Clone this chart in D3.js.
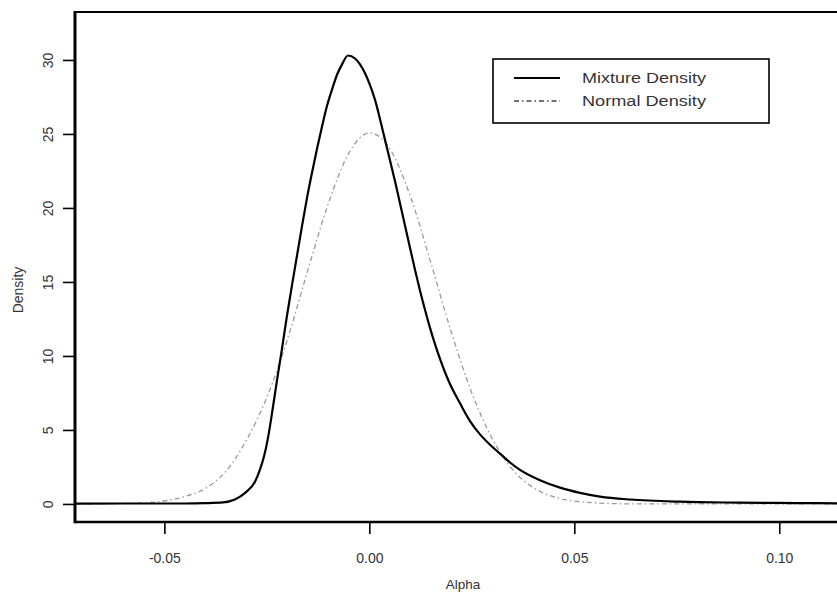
<!DOCTYPE html>
<html>
<head>
<meta charset="utf-8">
<script src="https://cdn.jsdelivr.net/npm/d3@7"></script>
<style>
  html, body { margin: 0; padding: 0; background: #fff; }
  svg { display: block; font-family: "Liberation Sans", Arial, sans-serif; }
</style>
</head>
<body>
<svg id="chart" width="837" height="597"></svg>
<script>
// ---- data ----
const mixtureX = [-0.0718, -0.06, -0.05, -0.045, -0.04, -0.0357, -0.0328, -0.0303, -0.0279, -0.0267, -0.0257, -0.0247, -0.0237, -0.0225, -0.0213, -0.0201, -0.01885, -0.01763, -0.01641, -0.01519, -0.01397, -0.01276, -0.01154, -0.01032, -0.0091, -0.00788, -0.00666, -0.0052, -0.00349, -0.00227, -0.00105, 0.00017, 0.00139, 0.00261, 0.00383, 0.00505, 0.00627, 0.00749, 0.00871, 0.00993, 0.01115, 0.01237, 0.01359, 0.0148, 0.01602, 0.01724, 0.01846, 0.01968, 0.02212, 0.02456, 0.027, 0.02944, 0.03188, 0.03432, 0.03676, 0.04163, 0.04651, 0.05139, 0.05627, 0.06359, 0.07578, 0.09, 0.104, 0.1175];
const mixtureY = [0.02, 0.03, 0.03, 0.03, 0.05, 0.1, 0.3, 0.75, 1.5, 2.3, 3.2, 4.5, 6.2, 8.4, 10.5, 12.7, 14.8, 16.8, 18.8, 20.7, 22.4, 24.0, 25.5, 26.9, 28.0, 29.0, 29.7, 30.3, 30.1, 29.7, 29.1, 28.3, 27.3, 26.0, 24.6, 23.2, 21.8, 20.3, 18.8, 17.3, 15.8, 14.4, 13.1, 11.9, 10.8, 9.8, 8.9, 8.1, 6.8, 5.6, 4.7, 4.0, 3.4, 2.8, 2.3, 1.6, 1.1, 0.75, 0.5, 0.3, 0.15, 0.09, 0.06, 0.03];

const normalX = [-0.0718, -0.065, -0.06, -0.055, -0.05, -0.045, -0.04, -0.035, -0.03, -0.025, -0.02, -0.015, -0.01, -0.005, 0.0, 0.005, 0.01, 0.015, 0.02, 0.025, 0.03, 0.035, 0.04, 0.045, 0.05, 0.055, 0.06, 0.065, 0.08, 0.1175];
const normalY = [0.0, 0.01, 0.03, 0.08, 0.2, 0.5, 1.05, 2.2, 4.3, 7.2, 11.1, 15.8, 20.3, 23.7, 25.07, 24.0, 20.8, 16.3, 11.6, 7.5, 4.4, 2.3, 1.1, 0.48, 0.19, 0.07, 0.02, 0.0, 0.0, 0.0];

const xTicks = [-0.05, 0.00, 0.05, 0.10];
const xTickLabels = ["-0.05", "0.00", "0.05", "0.10"];
const yTicks = [0, 5, 10, 15, 20, 25, 30];

const seriesNames = ["Mixture Density", "Normal Density"];
const xTitle = "Alpha";
const yTitle = "Density";

// ---- layout ----
const svg = d3.select("#chart");
const pLeft = 75, pRight = 851, pTop = 12, pBottom = 522;

const x = d3.scaleLinear().domain([-0.0718, 0.1175]).range([pLeft, pRight]);
const y = d3.scaleLinear().domain([-1.22, 33.24]).range([pBottom, pTop]);

svg.append("defs").append("clipPath").attr("id", "plotclip")
  .append("rect").attr("x", pLeft).attr("y", pTop).attr("width", pRight - pLeft).attr("height", pBottom - pTop);

const textColor = "#333";

// ---- curves ----
const g = svg.append("g").attr("clip-path", "url(#plotclip)");

const normalData = normalX.map((v, i) => [v, normalY[i]]);
const mixtureData = mixtureX.map((v, i) => [v, mixtureY[i]]);

const line = d3.line().x(d => x(d[0])).y(d => y(d[1])).curve(d3.curveMonotoneX);

g.append("path").datum(normalData)
  .attr("d", line)
  .attr("fill", "none")
  .attr("stroke", "#999")
  .attr("stroke-width", 1.3)
  .attr("stroke-dasharray", "5,3,1.5,3");

g.append("path").datum(mixtureData)
  .attr("d", line)
  .attr("fill", "none")
  .attr("stroke", "#000")
  .attr("stroke-width", 2.2);

// ---- axes ----
const xAxis = d3.axisBottom(x).tickValues(xTicks)
  .tickFormat((d, i) => xTickLabels[i]).tickSize(12).tickPadding(0);
const xg = svg.append("g").attr("transform", `translate(0,${pBottom})`).call(xAxis);
xg.select(".domain").remove();
xg.selectAll(".tick line").attr("stroke", "#000").attr("stroke-width", 1.6);
xg.selectAll(".tick text").attr("fill", textColor).attr("font-size", 14)
  .attr("font-family", "Liberation Sans, Arial, sans-serif")
  .attr("y", 36).attr("dy", null).attr("dominant-baseline", "central");

const yAxis = d3.axisLeft(y).tickValues(yTicks).tickSize(12).tickPadding(0);
const yg = svg.append("g").attr("transform", `translate(${pLeft},0)`).call(yAxis);
yg.select(".domain").remove();
yg.selectAll(".tick line").attr("stroke", "#000").attr("stroke-width", 1.6);
yg.selectAll(".tick text")
  .attr("fill", textColor).attr("font-size", 14)
  .attr("font-family", "Liberation Sans, Arial, sans-serif")
  .attr("x", null).attr("dy", null)
  .attr("text-anchor", "middle")
  .attr("dominant-baseline", "central")
  .attr("transform", "translate(-27,0) rotate(-90)");

// ---- frame ----
const frame = svg.append("g").attr("stroke", "#000").attr("fill", "none");
frame.append("line").attr("x1", pLeft).attr("x2", pRight).attr("y1", pTop).attr("y2", pTop).attr("stroke-width", 1.8);
frame.append("line").attr("x1", pLeft).attr("x2", pRight).attr("y1", pBottom).attr("y2", pBottom).attr("stroke-width", 2.4);
frame.append("line").attr("x1", pLeft).attr("x2", pLeft).attr("y1", pTop - 0.9).attr("y2", pBottom + 1.2).attr("stroke-width", 3);
frame.append("line").attr("x1", pRight).attr("x2", pRight).attr("y1", pTop).attr("y2", pBottom).attr("stroke-width", 2.4);

// ---- titles ----
svg.append("text").attr("x", 463).attr("y", 584)
  .attr("text-anchor", "middle").attr("dominant-baseline", "central")
  .attr("font-size", 13.5).attr("fill", textColor).text(xTitle);

svg.append("text")
  .attr("transform", "translate(18,290) rotate(-90)")
  .attr("text-anchor", "middle").attr("dominant-baseline", "central")
  .attr("font-size", 14).attr("fill", textColor).text(yTitle);

// ---- legend ----
const lg = svg.append("g");
lg.append("rect").attr("x", 493).attr("y", 59).attr("width", 276).attr("height", 64)
  .attr("fill", "#fff").attr("stroke", "#000").attr("stroke-width", 1.6);
const legendY = [78, 101];
const legendStyles = [
  { stroke: "#000", width: 1.8, dash: null },
  { stroke: "#444", width: 1.3, dash: "5,3,1.5,3" }
];
seriesNames.forEach((name, i) => {
  lg.append("line").attr("x1", 514).attr("x2", 560).attr("y1", legendY[i]).attr("y2", legendY[i])
    .attr("stroke", legendStyles[i].stroke).attr("stroke-width", legendStyles[i].width)
    .attr("stroke-dasharray", legendStyles[i].dash);
  lg.append("text").attr("x", 582).attr("y", legendY[i])
    .attr("dominant-baseline", "central").attr("font-size", 14).attr("fill", textColor)
    .attr("textLength", 124).attr("lengthAdjust", "spacingAndGlyphs").text(name);
});
</script>
</body>
</html>
